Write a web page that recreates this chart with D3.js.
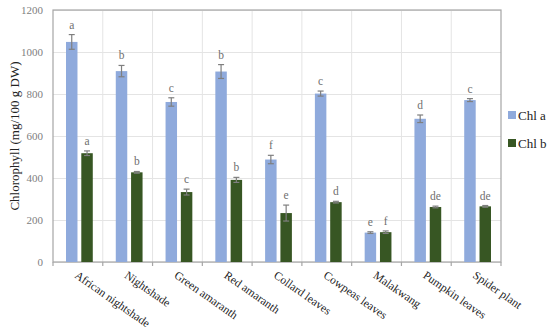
<!DOCTYPE html>
<html>
<head>
<meta charset="utf-8">
<script src="https://cdn.jsdelivr.net/npm/d3@7"></script>
<style>
  body { margin: 0; background: #fff; }
  svg text { font-family: "Liberation Serif", "DejaVu Serif", serif; }
</style>
</head>
<body>
<div id="chart"></div>
<script>
"use strict";

// ── data ──────────────────────────────────────────────────────────────────────
const categories = ["African nightshade", "Nightshade", "Green amaranth", "Red amaranth",
  "Collard leaves", "Cowpeas leaves", "Malakwang", "Pumpkin leaves", "Spider plant"];
const series = ["Chl a", "Chl b"];
const chlA    = [1048, 909, 762, 907, 488, 802, 140, 682, 771];
const chlAErr = [35, 27, 20, 33, 20, 12, 4, 18, 7];
const chlALet = ["a", "b", "c", "b", "f", "c", "e", "d", "c"];
const chlB    = [518, 427, 333, 391, 233, 285, 142, 262, 265];
const chlBErr = [11, 4, 14, 12, 38, 4, 6, 4, 4];
const chlBLet = ["a", "b", "c", "b", "e", "d", "f", "de", "de"];
const yTicks  = [0, 200, 400, 600, 800, 1000, 1200];

const COLORS = { "Chl a": "#8faadc", "Chl b": "#375623" };

// ── layout ────────────────────────────────────────────────────────────────────
const W = 550, H = 335;
const plot = { left: 53, top: 10, right: 501, bottom: 262 };

const svg = d3.select("#chart").append("svg")
  .attr("width", W).attr("height", H);

const x = d3.scaleBand().domain(categories).range([plot.left, plot.right]);
const y = d3.scaleLinear().domain([0, 1200]).range([plot.bottom, plot.top]);
const xs = d3.scaleBand().domain(series).range([13, x.bandwidth() - 10]).paddingInner(0.25);

// grid
svg.append("g")
  .call(d3.axisLeft(y).tickValues(yTicks).tickSize(-(plot.right - plot.left)).tickFormat(""))
  .attr("transform", `translate(${plot.left},0)`)
  .call(g => {
    g.select(".domain").remove();
    g.selectAll("line").attr("stroke", "#e4e4e4");
  });
svg.append("g").selectAll("line").data(categories.slice(1)).enter().append("line")
  .attr("x1", d => x(d)).attr("x2", d => x(d))
  .attr("y1", plot.top).attr("y2", plot.bottom)
  .attr("stroke", "#e4e4e4");

// border
svg.append("rect")
  .attr("x", plot.left).attr("y", plot.top)
  .attr("width", plot.right - plot.left).attr("height", plot.bottom - plot.top)
  .attr("fill", "none").attr("stroke", "#a6a6a6").attr("stroke-width", 1.2);

// bars
const rows = categories.map((c, i) => [
  { cat: c, s: "Chl a", v: chlA[i], e: chlAErr[i], l: chlALet[i] },
  { cat: c, s: "Chl b", v: chlB[i], e: chlBErr[i], l: chlBLet[i] },
]).flat();

svg.append("g").selectAll("rect").data(rows).enter().append("rect")
  .attr("x", d => x(d.cat) + xs(d.s))
  .attr("y", d => y(d.v))
  .attr("width", xs.bandwidth())
  .attr("height", d => y(0) - y(d.v))
  .attr("fill", d => COLORS[d.s]);

// error bars
const eb = svg.append("g").attr("stroke", "#7f7f7f").attr("stroke-width", 1.2);
rows.forEach(d => {
  const cx = x(d.cat) + xs(d.s) + xs.bandwidth() / 2;
  eb.append("line").attr("x1", cx).attr("x2", cx).attr("y1", y(d.v + d.e)).attr("y2", y(d.v - d.e));
  eb.append("line").attr("x1", cx - 3).attr("x2", cx + 3).attr("y1", y(d.v + d.e)).attr("y2", y(d.v + d.e));
  eb.append("line").attr("x1", cx - 3).attr("x2", cx + 3).attr("y1", y(d.v - d.e)).attr("y2", y(d.v - d.e));
});

// letters
svg.append("g").selectAll("text").data(rows).enter().append("text")
  .attr("x", d => x(d.cat) + xs(d.s) + xs.bandwidth() / 2)
  .attr("y", d => y(d.v + d.e) - 6)
  .attr("text-anchor", "middle")
  .attr("font-size", 11.5).attr("fill", "#6f6f6f")
  .text(d => d.l);

// y axis
svg.append("g").attr("transform", `translate(${plot.left},0)`)
  .call(d3.axisLeft(y).tickValues(yTicks).tickSize(0).tickPadding(10).tickFormat(d3.format("d")))
  .call(g => {
    g.select(".domain").remove();
    g.selectAll("text").attr("font-size", 11).attr("fill", "#808080")
      .style("font-family", "Liberation Serif, serif");
  });

// x axis ticks
svg.append("g").selectAll("line").data(categories.concat(["end"])).enter().append("line")
  .attr("x1", (d, i) => i < categories.length ? x(d) : plot.right)
  .attr("x2", (d, i) => i < categories.length ? x(d) : plot.right)
  .attr("y1", plot.bottom).attr("y2", plot.bottom + 4)
  .attr("stroke", "#a6a6a6").attr("stroke-width", 1.2);

svg.append("g").selectAll("text").data(categories).enter().append("text")
  .attr("transform", d => `translate(${x(d) + x.bandwidth() / 2 - 4},${plot.bottom + 15}) rotate(35)`)
  .attr("font-size", 11.6).attr("fill", "#222")
  .text(d => d);

// y title
svg.append("text")
  .attr("transform", `translate(19,${(plot.top + plot.bottom) / 2}) rotate(-90)`)
  .attr("text-anchor", "middle")
  .attr("font-size", 13).attr("fill", "#222")
  .text("Chlorophyll (mg/100 g DW)");

// legend
const lg = svg.append("g").selectAll("g").data(series).enter().append("g")
  .attr("transform", (d, i) => `translate(508,${115 + i * 28})`);
lg.append("rect").attr("x", 0).attr("y", -4).attr("width", 8).attr("height", 8)
  .attr("fill", d => COLORS[d]);
lg.append("text").attr("x", 10).attr("y", 4.5)
  .attr("font-size", 13).attr("fill", "#222")
  .text(d => d);
</script>
</body>
</html>
